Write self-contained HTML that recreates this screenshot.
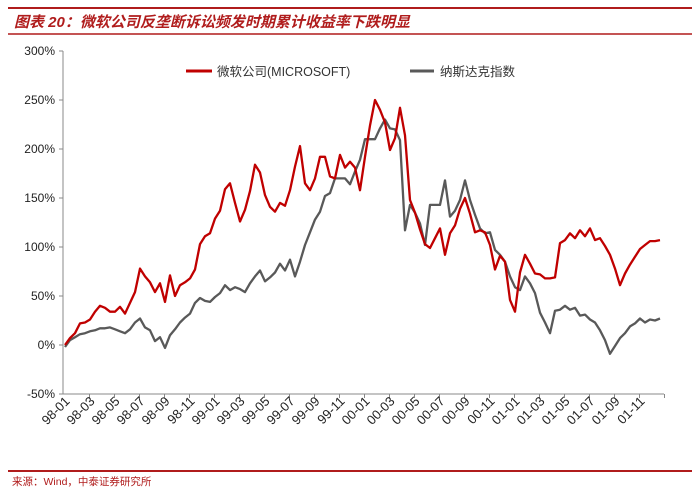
<!DOCTYPE html>
<html><head><meta charset="utf-8"><style>
body{margin:0;background:#fff;width:700px;height:491px;overflow:hidden}
svg text{font-family:"Liberation Sans","Noto Sans CJK SC",sans-serif}
</style></head><body>
<svg id="c" width="700" height="491" xmlns="http://www.w3.org/2000/svg">
<line x1="8" y1="8" x2="692" y2="8" stroke="#b01c1c" stroke-width="2"/>
<text x="14" y="27" font-size="15" font-style="italic" font-weight="bold" fill="#b01c1c">图表 20：微软公司反垄断诉讼频发时期累计收益率下跌明显</text>
<line x1="8" y1="34" x2="692" y2="34" stroke="#b01c1c" stroke-width="1.5"/>
<line x1="186" y1="71" x2="212" y2="71" stroke="#c00000" stroke-width="3"/>
<text x="217" y="76" font-size="12.5" fill="#333">微软公司(MICROSOFT)</text>
<line x1="410" y1="71" x2="434" y2="71" stroke="#595959" stroke-width="3"/>
<text x="440" y="76" font-size="12.5" fill="#333">纳斯达克指数</text>
<line x1="8" y1="471" x2="692" y2="471" stroke="#b01c1c" stroke-width="2"/>
<text x="12" y="485" font-size="10.5" fill="#b01c1c">来源：Wind，中泰证券研究所</text>
<g id="axes"></g><g id="series"></g>
</svg>
<script>
const yTicks=[300,250,200,150,100,50,0,-50];
const xLabels=["98-01","98-03","98-05","98-07","98-09","98-11","99-01","99-03","99-05","99-07","99-09","99-11","00-01","00-03","00-05","00-07","00-09","00-11","01-01","01-03","01-05","01-07","01-09","01-11"];
const msft=[0,7,12,22,23,26,34,40,38,34,34,39,32,43,54,78,70,64,54,63,44,71,50,61,64,68,77,103,111,114,129,137,159,165,145,126,138,157,184,176,153,141,136,145,142,158,182,203,165,158,170,192,192,172,170,194,181,187,181,158,192,224,250,240,227,199,211,242,214,148,135,118,103,99,109,119,92,114,122,139,150,134,115,117,115,102,77,91,85,46,34,74,92,83,73,72,68,68,69,104,107,114,109,117,111,119,107,109,101,92,78,61,73,82,90,98,102,106,106,107];
const nasdaq=[-2,5,8,11,12,14,15,17,17,18,16,14,12,16,23,27,18,15,4,8,-3,10,16,23,28,32,43,48,45,44,49,53,61,56,59,57,54,63,70,76,65,69,74,83,76,87,70,85,102,115,128,136,152,155,170,170,170,164,177,189,210,210,210,221,230,221,220,209,117,143,135,124,102,143,143,143,168,131,137,148,168,148,133,119,114,115,97,92,85,70,59,56,70,63,53,33,23,12,35,36,40,36,38,30,31,26,23,15,5,-9,-1,7,12,19,22,27,23,26,25,27];
const NS="http://www.w3.org/2000/svg";
const y=v=>345-v*0.98;
const xm=m=>63+m*12.5;
const xi=(k,n)=>65+k*(595/(n-1));
const ax=document.getElementById('axes'),se=document.getElementById('series');
function mk(t,a,p){const e=document.createElementNS(NS,t);for(const k in a)e.setAttribute(k,a[k]);p.appendChild(e);return e;}
const ya=mk('line',{x1:63,y1:51,x2:63,y2:394,stroke:'#888','stroke-width':1},ax);


const xa=mk('line',{x1:63,y1:394,x2:664,y2:394,stroke:'#888','stroke-width':1},ax);


yTicks.forEach(v=>{
 mk('line',{x1:59,y1:y(v),x2:63,y2:y(v),stroke:'#888'},ax);
 const t=mk('text',{x:55,y:y(v)+4,'font-size':12,'text-anchor':'end',fill:'#222'},ax);
 t.textContent=v+'%';
 
 
});
xLabels.forEach((l,i)=>{
 const px=xm(i*2+0.2);
 mk('line',{x1:px+24,y1:394,x2:px+24,y2:398,stroke:'#888'},ax);
 const t=mk('text',{x:px+5,y:402,'font-size':13,'text-anchor':'end',fill:'#222',transform:`rotate(-45 ${px+5} 402)`},ax);
 t.textContent=l;
 
 
});
function line(d,c,name){
 const p=d.map((v,k)=>(k?'L':'M')+xi(k,d.length).toFixed(1)+' '+y(v).toFixed(1)).join('');
 const e=mk('path',{d:p,fill:'none',stroke:c,'stroke-width':2.3,'stroke-linejoin':'round'},se);
 
 
}
line(nasdaq,'#595959','nasdaq-line');
line(msft,'#c00000','msft-line');
</script>
</body></html>
